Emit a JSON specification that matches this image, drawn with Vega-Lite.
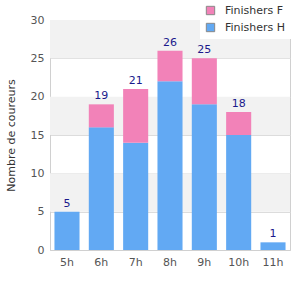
{
  "$schema": "https://vega.github.io/schema/vega-lite/v6.json",
  "autosize": "none",
  "width": 240,
  "height": 230,
  "padding": {"left": 50, "top": 20, "right": 10, "bottom": 50},
  "config": {
    "font": "DejaVu Sans",
    "view": {"stroke": "#d0d0d0", "strokeWidth": 1},
    "axis": {"labelFont": "DejaVu Sans", "titleFont": "DejaVu Sans", "labelColor": "#555", "labelFontSize": 11, "ticks": false, "domainColor": "#d0d0d0", "gridColor": "#dcdcdc"},
    "axisY": {"values": [0, 5, 10, 15, 20, 25, 30], "labelPadding": 6, "grid": true, "titleColor": "#333", "titleFontSize": 11, "titleFontWeight": "normal", "titlePadding": 14},
    "legend": {"labelFont": "DejaVu Sans", "labelFontSize": 11, "labelColor": "#333"}
  },
  "datasets": {
    "bars": [
      {"heure": "5h", "serie": "Finishers H", "n": 5, "ordre": 0},
      {"heure": "6h", "serie": "Finishers H", "n": 16, "ordre": 0},
      {"heure": "7h", "serie": "Finishers H", "n": 14, "ordre": 0},
      {"heure": "8h", "serie": "Finishers H", "n": 22, "ordre": 0},
      {"heure": "9h", "serie": "Finishers H", "n": 19, "ordre": 0},
      {"heure": "10h", "serie": "Finishers H", "n": 15, "ordre": 0},
      {"heure": "11h", "serie": "Finishers H", "n": 1, "ordre": 0},
      {"heure": "5h", "serie": "Finishers F", "n": 0, "ordre": 1},
      {"heure": "6h", "serie": "Finishers F", "n": 3, "ordre": 1},
      {"heure": "7h", "serie": "Finishers F", "n": 7, "ordre": 1},
      {"heure": "8h", "serie": "Finishers F", "n": 4, "ordre": 1},
      {"heure": "9h", "serie": "Finishers F", "n": 6, "ordre": 1},
      {"heure": "10h", "serie": "Finishers F", "n": 3, "ordre": 1},
      {"heure": "11h", "serie": "Finishers F", "n": 0, "ordre": 1}
    ],
    "totaux": [
      {"heure": "5h", "total": 5},
      {"heure": "6h", "total": 19},
      {"heure": "7h", "total": 21},
      {"heure": "8h", "total": 26},
      {"heure": "9h", "total": 25},
      {"heure": "10h", "total": 18},
      {"heure": "11h", "total": 1}
    ],
    "bandes": [
      {"y1": 5, "y2": 10},
      {"y1": 15, "y2": 20},
      {"y1": 25, "y2": 30}
    ]
  },
  "layer": [
    {
      "data": {"name": "bandes"},
      "mark": {"type": "rect", "color": "#f2f2f2"},
      "encoding": {
        "y": {"field": "y1", "type": "quantitative", "scale": {"domain": [0, 30]}, "title": "Nombre de coureurs"},
        "y2": {"field": "y2"}
      }
    },
    {
      "data": {"name": "bars"},
      "mark": {"type": "bar"},
      "encoding": {
        "x": {"field": "heure", "type": "nominal", "sort": ["5h", "6h", "7h", "8h", "9h", "10h", "11h"],
          "scale": {"paddingInner": 0.27, "paddingOuter": 0.13},
          "axis": {"title": null, "labelAngle": 0, "labelPadding": 6, "grid": false}},
        "y": {"field": "n", "type": "quantitative", "stack": "zero", "title": "Nombre de coureurs"},
        "order": {"field": "ordre", "type": "quantitative"},
        "color": {"field": "serie", "type": "nominal",
          "scale": {"domain": ["Finishers F", "Finishers H"], "range": ["#f282b8", "#62a9f3"]},
          "legend": {"title": null, "orient": "none", "legendX": 150, "legendY": -20, "symbolType": "square", "symbolSize": 70, "symbolStrokeColor": "#888", "symbolStrokeWidth": 1, "fillColor": "white", "padding": 5, "rowPadding": 4, "labelOffset": 9, "zindex": 2}}
      }
    },
    {
      "data": {"name": "totaux"},
      "mark": {"type": "text", "dy": -8, "color": "#1a1a8c", "fontSize": 11},
      "encoding": {
        "x": {"field": "heure", "type": "nominal", "sort": ["5h", "6h", "7h", "8h", "9h", "10h", "11h"]},
        "y": {"field": "total", "type": "quantitative"},
        "text": {"field": "total", "type": "quantitative"}
      }
    }
  ]
}
